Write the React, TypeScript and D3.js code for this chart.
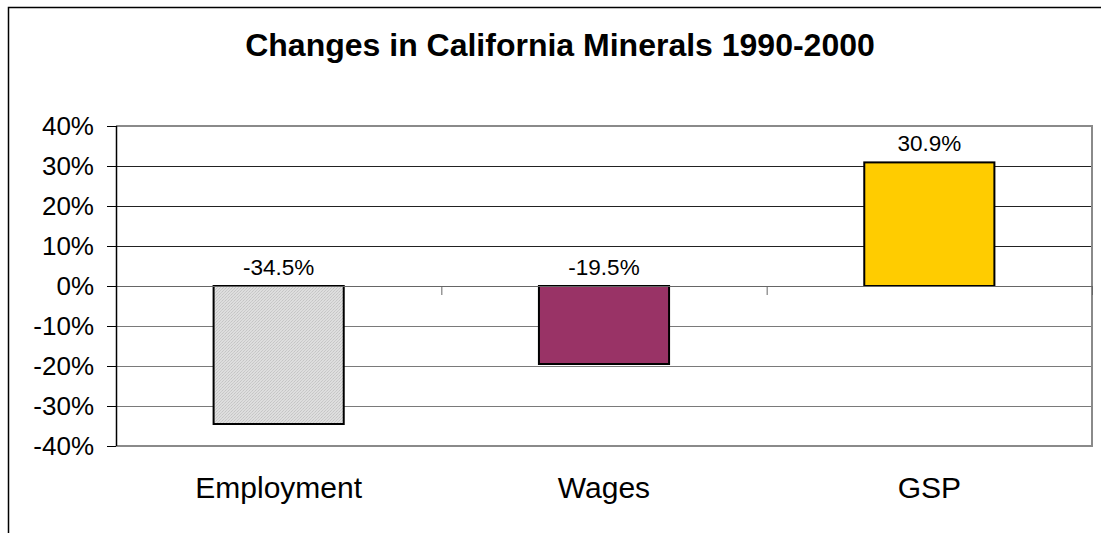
import React from "react";
import * as d3 from "d3";

const categories = ["Employment", "Wages", "GSP"];
const values = [-0.345, -0.195, 0.309];
const valueLabels = ["-34.5%", "-19.5%", "30.9%"];
const barFills = ["url(#dots)", "#993366", "#FFCC00"];
const yTicks = [0.4, 0.3, 0.2, 0.1, 0, -0.1, -0.2, -0.3, -0.4];
const title = "Changes in California Minerals 1990-2000";

const W = 1101;
const H = 533;
const plot = { left: 116, right: 1092, top: 126, bottom: 446 };
const FONT = "Liberation Sans, Arial, Helvetica, sans-serif";

export default function App() {
  const x = d3
    .scaleBand<string>()
    .domain(categories)
    .range([plot.left, plot.right])
    .paddingInner(0.6)
    .paddingOuter(0.3);
  const y = d3.scaleLinear().domain([-0.4, 0.4]).range([plot.bottom, plot.top]);
  const step = x.step();
  const fmt = (v: number) => `${Math.round(v * 100)}%`;
  const boundaries = d3.range(categories.length + 1).map((i) => plot.left + i * step);

  return (
    <div style={{ position: "absolute", left: 0, top: 0 }}>
      <svg width={W} height={H} style={{ display: "block", background: "#fff" }}>
        <defs>
          <pattern id="dots" width="3" height="3" patternUnits="userSpaceOnUse">
            <rect width="3" height="3" fill="#dedede" />
            <rect x="0" y="0" width="1" height="1" fill="#c4c4c4" />
            <rect x="2" y="1" width="1" height="1" fill="#cccccc" />
            <rect x="1" y="2" width="1" height="1" fill="#c8c8c8" />
          </pattern>
        </defs>
        {/* outer frame (extends beyond view) */}
        <rect x={8.5} y={7.5} width={W + 60} height={H + 60} fill="#fff" stroke="#000" strokeWidth={1.5} />
        <text x={560} y={56} textAnchor="middle" fontFamily={FONT} fontWeight="bold" fontSize={32} fill="#000">
          {title}
        </text>
        {/* gridlines */}
        {yTicks
          .filter((t) => t !== 0.4 && t !== -0.4 && t !== 0)
          .map((t) => (
            <line
              key={t}
              x1={plot.left}
              x2={plot.right}
              y1={Math.round(y(t)) + 0.5}
              y2={Math.round(y(t)) + 0.5}
              stroke={t > 0 ? "#222" : "#7a7a7a"}
              strokeWidth={1}
            />
          ))}
        {/* plot border */}
        <path
          d={`M${plot.left},${plot.top} H${plot.right} V${plot.bottom} H${plot.left}`}
          fill="none"
          stroke="#8a8a8a"
          strokeWidth={2}
        />
        {/* bars */}
        {categories.map((c, i) => {
          const v = values[i];
          const y0 = y(Math.max(v, 0));
          const y1 = y(Math.min(v, 0));
          return (
            <rect
              key={c}
              x={x(c)}
              y={y0}
              width={x.bandwidth()}
              height={y1 - y0}
              fill={barFills[i]}
              stroke="#000"
              strokeWidth={2}
            />
          );
        })}
        {/* zero line */}
        <line x1={plot.left} x2={plot.right} y1={y(0) + 0.5} y2={y(0) + 0.5} stroke="#666" strokeWidth={1} />
        {boundaries.map((b, i) => (
          <line key={i} x1={b + 0.5} x2={b + 0.5} y1={y(0)} y2={y(0) + 9} stroke="#666" strokeWidth={1} />
        ))}
        {/* y axis */}
        <line x1={plot.left + 0.5} x2={plot.left + 0.5} y1={plot.top} y2={plot.bottom} stroke="#000" strokeWidth={1.5} />
        {yTicks.map((t) => (
          <g key={t}>
            <line x1={107} x2={plot.left} y1={Math.round(y(t)) + 0.5} y2={Math.round(y(t)) + 0.5} stroke="#000" strokeWidth={1} />
            <text x={94} y={y(t) + 9} textAnchor="end" fontFamily={FONT} fontSize={26} fill="#000">
              {fmt(t)}
            </text>
          </g>
        ))}
        {/* value labels */}
        {categories.map((c, i) => (
          <text
            key={c}
            x={(x(c) as number) + x.bandwidth() / 2}
            y={y(Math.max(values[i], 0)) - 11}
            textAnchor="middle"
            fontFamily={FONT}
            fontSize={22.5}
            fill="#000"
          >
            {valueLabels[i]}
          </text>
        ))}
        {/* category labels */}
        {categories.map((c) => (
          <text
            key={c}
            x={(x(c) as number) + x.bandwidth() / 2}
            y={498}
            textAnchor="middle"
            fontFamily={FONT}
            fontSize={30}
            fill="#000"
          >
            {c}
          </text>
        ))}
      </svg>
    </div>
  );
}
